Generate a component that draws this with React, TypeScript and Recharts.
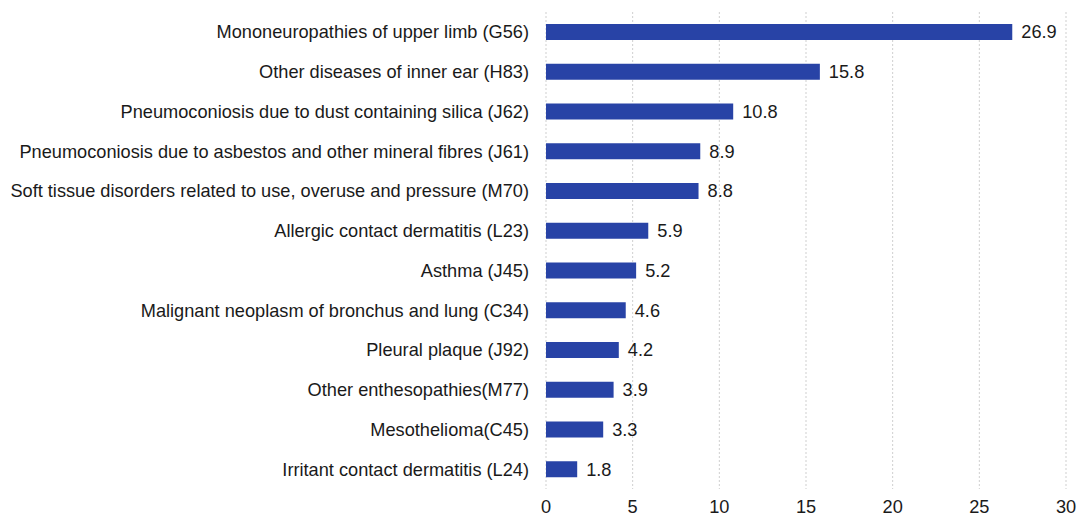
import { Bar, BarChart, CartesianGrid, LabelList, XAxis, YAxis } from 'recharts'

const diseases = [
  'Mononeuropathies of upper limb (G56)',
  'Other diseases of inner ear (H83)',
  'Pneumoconiosis due to dust containing silica (J62)',
  'Pneumoconiosis due to asbestos and other mineral fibres (J61)',
  'Soft tissue disorders related to use, overuse and pressure (M70)',
  'Allergic contact dermatitis (L23)',
  'Asthma (J45)',
  'Malignant neoplasm of bronchus and lung (C34)',
  'Pleural plaque (J92)',
  'Other enthesopathies(M77)',
  'Mesothelioma(C45)',
  'Irritant contact dermatitis (L24)',
]
const shares = [26.9, 15.8, 10.8, 8.9, 8.8, 5.9, 5.2, 4.6, 4.2, 3.9, 3.3, 1.8]
const xTicks = [0, 5, 10, 15, 20, 25, 30]
// band edges, used only for the little tick marks on the category axis
const bandEdges = [0, 1, 2, 3, 4, 5, 6, 7, 8, 9, 10, 11, 12]

const data = diseases.map((name, i) => ({ name, share: shares[i] }))

const FONT = '"Liberation Sans", Arial, sans-serif'
const TEXT = '#1a1a1a'
const SIZE = 18.2

export default function App() {
  return (
    <div style={{ position: 'absolute', left: 0, top: 0, background: '#fff' }}>
      <BarChart
        width={1080}
        height={517}
        data={data}
        layout="vertical"
        margin={{ top: 12, right: 14, bottom: 0, left: 0 }}
      >
        <CartesianGrid
          horizontal={false}
          strokeDasharray="2 2"
          stroke="#cfcfcf"
        />
        <XAxis
          type="number"
          domain={[0, 30]}
          ticks={xTicks}
          axisLine={false}
          tickLine={false}
          tickMargin={5}
          height={28}
          tick={{ fontSize: SIZE, fill: TEXT, fontFamily: FONT }}
        />
        <YAxis
          yAxisId="edges"
          type="number"
          domain={[0, 12]}
          ticks={bandEdges}
          reversed
          width={0}
          tickSize={5}
          tickFormatter={() => ''}
          axisLine={{ stroke: '#858585', strokeWidth: 1.5 }}
          tickLine={{ stroke: '#858585', strokeWidth: 1 }}
        />
        <YAxis
          yAxisId="cat"
          type="category"
          dataKey="name"
          width={546}
          axisLine={false}
          tickLine={false}
          tickMargin={11}
          interval={0}
          tick={{ fontSize: SIZE, fill: TEXT, fontFamily: FONT }}
        />
        <Bar
          yAxisId="cat"
          dataKey="share"
          fill="#2843a6"
          barSize={16}
          isAnimationActive={false}
        >
          <LabelList
            dataKey="share"
            position="right"
            offset={9}
            formatter={(v: number) => v.toFixed(1)}
            style={{ fontSize: SIZE, fill: TEXT, fontFamily: FONT }}
          />
        </Bar>
      </BarChart>
    </div>
  )
}
